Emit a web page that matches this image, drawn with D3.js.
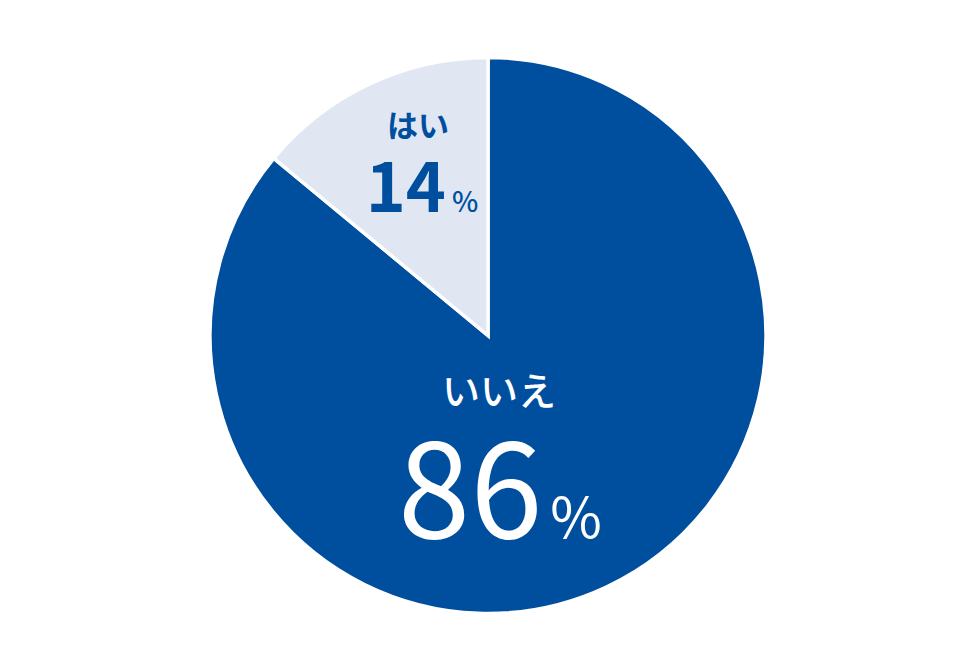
<!DOCTYPE html>
<html><head><meta charset="utf-8">
<script src="https://cdn.jsdelivr.net/npm/d3@7"></script>
<style>html,body{margin:0;padding:0;background:#fff;}svg{display:block;}</style>
</head><body>
<svg id="c" width="976" height="656"></svg>
<script>
const categories = ["いいえ", "はい"];
const values = [86, 14];
const colors = ["#004f9e", "#e0e7f3"];
const textColors = ["#ffffff", "#004f9e"];

const svg = d3.select("#c");
const cx = 488, cy = 335.5, r = 278;
const g = svg.append("g").attr("transform", `translate(${cx},${cy})`);
const pie = d3.pie().sort(null).value(d => d)(values);
const arc = d3.arc().innerRadius(0).outerRadius(r);
g.selectAll("path").data(pie).join("path")
  .attr("d", arc)
  .attr("fill", (d, i) => colors[i])
  .attr("stroke", "#fff").attr("stroke-width", 3.5).attr("stroke-linejoin", "miter");

const font = "'Noto Sans CJK JP', 'Noto Sans', sans-serif";

// Big slice label (one text, two lines)
const bt = g.append("text").attr("fill", textColors[0]).attr("font-family", font)
  .attr("text-anchor", "middle");
bt.append("tspan").attr("x", 11).attr("y", 69)
  .attr("font-size", 38).attr("font-weight", 500).text(categories[0]);
bt.append("tspan").attr("x", 12).attr("y", 202)
  .attr("font-size", 130).attr("font-weight", 400).text(values[0]);
bt.append("tspan").attr("font-size", 56).attr("font-weight", 400).attr("dx", 8).text("%");

// Small slice label
const st = g.append("text").attr("fill", textColors[1]).attr("font-family", font)
  .attr("text-anchor", "middle");
st.append("tspan").attr("x", -70).attr("y", -199)
  .attr("font-size", 31).attr("font-weight", 700).text(categories[1]);
st.append("tspan").attr("x", -66).attr("y", -124)
  .attr("font-size", 68).attr("font-weight", 700).text(values[1]);
st.append("tspan").attr("font-size", 28).attr("font-weight", 500).attr("dx", 6).text("%");
</script>
</body></html>
